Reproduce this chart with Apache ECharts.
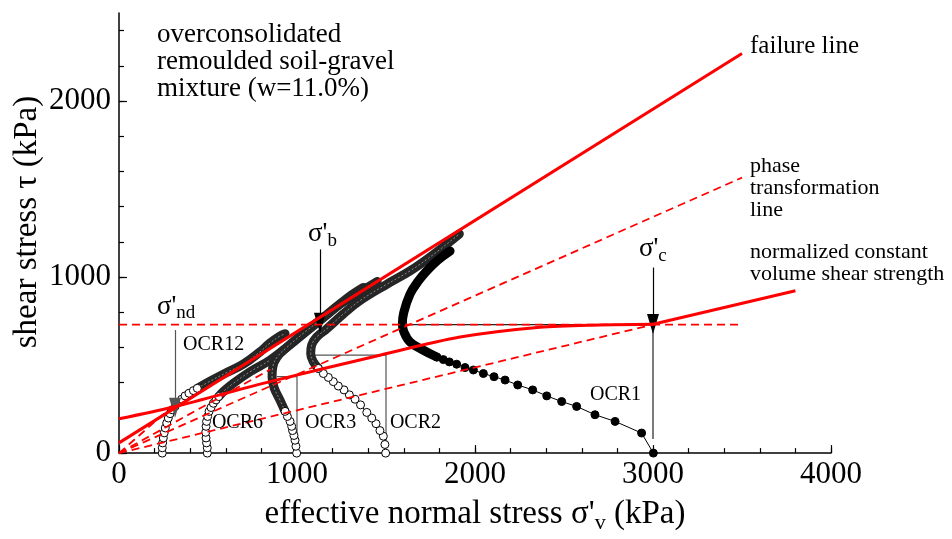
<!DOCTYPE html>
<html>
<head>
<meta charset="utf-8">
<script src="https://cdn.jsdelivr.net/npm/echarts@6/dist/echarts.min.js"></script>
<style>
html, body { margin: 0; padding: 0; background: #fff; }
#chart { width: 952px; height: 539px; }
</style>
</head>
<body>
<div id="chart"></div>
<script>
// axis ticks
var xLabels = [0, 1000, 2000, 3000, 4000];
var xMinorTicks = [0, 200, 400, 600, 800, 1000, 1200, 1400, 1600, 1800, 2000, 2200, 2400, 2600, 2800, 3000, 3200, 3400, 3600, 3800, 4000];
var yLabels = [0, 1000, 2000];
var yMinorTicks = [0, 200, 400, 600, 800, 1000, 1200, 1400, 1600, 1800, 2000, 2200, 2400];

// stress paths (sigma'v, tau) in kPa
var ocr12Pts = [[243, 0], [243, 30], [245, 58], [249, 86], [254, 115], [260, 143], [268, 171], [277, 199], [287, 224], [299, 246], [315, 265], [333, 287], [352, 306], [371, 325], [393, 340], [418, 355], [440, 368]];
var ocr12Band = [[440, 368], [511, 408], [605, 458], [698, 505], [792, 575], [848, 625], [900, 662], [933, 678]];
var ocr6Pts = [[496, 0], [496, 30], [492, 58], [489, 86], [487, 118], [489, 152], [492, 180], [498, 208], [506, 237], [517, 259], [530, 283], [545, 302], [560, 321]];
var ocr6Band = [[560, 321], [586, 349], [642, 396], [736, 462], [848, 528], [979, 630], [1073, 708], [1167, 785], [1279, 878], [1373, 941]];
var ocr3Pts = [[998, 0], [994, 39], [989, 73], [983, 100], [975, 128], [970, 152], [961, 180], [946, 208], [933, 237]];
var ocr3Band = [[933, 237], [905, 300], [872, 370], [860, 432], [864, 490], [888, 545], [942, 600], [1035, 680], [1129, 755], [1241, 845], [1354, 915], [1450, 975]];
var ocr2Pts = [[1498, 0], [1494, 49], [1485, 96], [1466, 128], [1444, 167], [1420, 199], [1392, 231], [1357, 274], [1326, 306], [1294, 331], [1264, 359], [1232, 381], [1204, 406], [1176, 430], [1148, 452], [1120, 481]];
var ocr2Band = [[1120, 481], [1092, 518], [1077, 565], [1082, 612], [1110, 659], [1167, 706], [1260, 790], [1354, 866], [1504, 959], [1635, 1035], [1766, 1128], [1912, 1245]];
var ocr1Pts = [[3002, 0], [2936, 114], [2787, 180], [2674, 218], [2571, 265], [2487, 293], [2403, 325], [2324, 359], [2240, 387], [2169, 415], [2107, 434], [2047, 452], [1991, 472], [1944, 486], [1897, 505], [1856, 518], [1822, 531], [1785, 546]];
var ocr1Band = [[1785, 546], [1710, 584], [1635, 631], [1600, 690], [1592, 735], [1600, 800], [1635, 903], [1680, 975], [1729, 1035], [1790, 1095], [1860, 1148]];

// red reference lines
var failureLine = [[0, 58], [3500, 2270]];
var phaseLine = [[0, 0], [3500, 1565]];
var cvCurve = [[0, 195], [305, 262], [848, 406], [1466, 556], [1916, 659], [2365, 715], [2700, 728], [3000, 732]];
var cvStraight = [[3000, 732], [3800, 922]];
var ndLevel = [[0, 730], [3500, 730]];
var cLine = [[0, 0], [3000, 730]];
var fanA = [[0, 0], [850, 475]];
var fanB = [[0, 0], [300, 265]];

// thin guides
var ocr1Guide = [[1597, 730], [3000, 730]];
var ocr2Guide = [[1101, 556], [1500, 556], [1500, 0]];
var ocr3Guide = [[886, 434], [1000, 434], [1000, 0]];
var cGuide = [[3000, 730], [3000, 80]];

// arrows [from, to]
var arrowNd = [[315, 699], [315, 258]];
var arrowB = [[1129, 1157], [1129, 740]];
var arrowC = [[3000, 1054], [3000, 734]];

// text notes: x, y (top-left), text, style
var notes = [
    [213, 2455, 'overconsolidated\nremoulded soil-gravel\nmixture (w=11.0%)', 'big'],
    [3545, 2385, 'failure line', 'mid'],
    [3545, 1690, 'phase\ntransformation\nline', 'small'],
    [3545, 1203, 'normalized constant\nvolume shear strength', 'small'],
    [360, 670, 'OCR12', 'ocr'],
    [522, 231, 'OCR6', 'ocr'],
    [1045, 231, 'OCR3', 'ocr'],
    [1522, 231, 'OCR2', 'ocr'],
    [2646, 389, 'OCR1', 'ocr'],
    [213, 924, '{m|σ\'}{s|nd}', 'sig'],
    [1062, 1335, '{m|σ\'}{s|b}', 'sig'],
    [2921, 1251, '{m|σ\'}{s|c}', 'sig']
];

var FONT = '"Liberation Serif", "DejaVu Serif", serif';
var RED = '#ff0000';

var noteStyles = {
    big: { fontSize: 27, lineHeight: 27 },
    mid: { fontSize: 25, lineHeight: 26 },
    small: { fontSize: 22, lineHeight: 22 },
    ocr: { fontSize: 20, lineHeight: 20 },
    sig: {
        rich: {
            m: { fontSize: 27, lineHeight: 32, fontFamily: FONT, color: '#000' },
            s: { fontSize: 19, lineHeight: 18, padding: [14, 0, 0, 0], fontFamily: FONT, color: '#000' }
        }
    }
};

function band(data, color) {
    return {
        type: 'line', data: data, smooth: 0.4, symbol: 'none', z: 3,
        lineStyle: { color: color, width: 9, cap: 'round', join: 'round' }
    };
}
// light hatching inside the dense runs of circles
function bandTexture(data) {
    return {
        type: 'line', data: data, smooth: 0.4, symbol: 'none', z: 3,
        lineStyle: { color: '#8a8a8a', width: 1, type: [2, 2] }
    };
}
function dots(data, filled) {
    return {
        type: 'line', data: data, symbol: 'circle', symbolSize: 8, z: 3,
        itemStyle: { color: filled ? '#000' : '#fff', borderColor: '#000', borderWidth: 1 },
        lineStyle: { color: '#000', width: 1 }
    };
}
function redLine(data, dashed, width, smooth) {
    return {
        type: 'line', data: data, symbol: 'none', smooth: smooth || false, z: 5,
        lineStyle: { color: RED, width: width, type: dashed ? [8, 5] : 'solid' }
    };
}
function guide(data, color) {
    return {
        type: 'line', data: data, symbol: 'none', z: 2,
        lineStyle: { color: color, width: 1.2 }
    };
}
function arrow(pair, color) {
    return {
        type: 'line', data: [], z: 6,
        markLine: {
            silent: true, animation: false,
            symbol: ['none', 'triangle'], symbolSize: [12, 20],
            label: { show: false },
            itemStyle: { color: color },
            lineStyle: { color: color, width: 1.2, type: 'solid' },
            data: [[{ coord: pair[0] }, { coord: pair[1] }]]
        }
    };
}
function plain(v) { return String(v); }

var chart = echarts.init(document.getElementById('chart'));

var option = {
    animation: false,
    grid: { left: 119, right: 121, top: 13, bottom: 82 },
    xAxis: [{
        type: 'value', min: 0, max: 4000,
        axisLine: { lineStyle: { color: '#000', width: 1.5 } },
        axisTick: { inside: true, length: 5, customValues: xMinorTicks, lineStyle: { color: '#000', width: 1.2 } },
        axisLabel: { customValues: xLabels, formatter: plain, margin: 6, fontFamily: FONT, fontSize: 31, color: '#000' },
        splitLine: { show: false },
        name: '{m|effective normal stress σ\'}{s|v}{m| (kPa)}',
        nameLocation: 'middle', nameGap: 42,
        nameTextStyle: {
            rich: {
                m: { fontSize: 33, lineHeight: 38, fontFamily: FONT, color: '#000' },
                s: { fontSize: 22, lineHeight: 22, padding: [17, 0, 0, 0], fontFamily: FONT, color: '#000' }
            }
        }
    }, {
        type: 'value', min: 0, max: 4000, position: 'bottom',
        axisLine: { show: false },
        axisTick: { inside: true, length: 8, customValues: xLabels, lineStyle: { color: '#000', width: 1.2 } },
        axisLabel: { show: false },
        splitLine: { show: false }
    }],
    yAxis: [{
        type: 'value', min: 0, max: 2500,
        axisLine: { show: true, lineStyle: { color: '#000', width: 1.5 } },
        axisTick: { show: true, inside: true, length: 5, customValues: yMinorTicks, lineStyle: { color: '#000', width: 1.2 } },
        axisLabel: { customValues: yLabels, formatter: plain, margin: 8, fontFamily: FONT, fontSize: 31, color: '#000' },
        splitLine: { show: false }
    }, {
        type: 'value', min: 0, max: 2500, position: 'left',
        axisLine: { show: false },
        axisTick: { show: true, inside: true, length: 8, customValues: yLabels, lineStyle: { color: '#000', width: 1.2 } },
        axisLabel: { show: false },
        splitLine: { show: false }
    }],
    graphic: [{
        type: 'text', x: 27, y: 222, rotation: Math.PI / 2,
        style: {
            text: 'shear stress τ (kPa)', fill: '#000',
            font: '33px ' + FONT,
            align: 'center', verticalAlign: 'middle',
            textAlign: 'center', textVerticalAlign: 'middle'
        }
    }],
    series: [
        guide(ocr1Guide, '#222'),
        guide(ocr2Guide, '#555'),
        guide(ocr3Guide, '#555'),
        guide(cGuide, '#222'),
        dots(ocr12Pts, false), band(ocr12Band, '#262626'), bandTexture(ocr12Band),
        dots(ocr6Pts, false), band(ocr6Band, '#262626'), bandTexture(ocr6Band),
        dots(ocr3Pts, false), band(ocr3Band, '#262626'), bandTexture(ocr3Band),
        dots(ocr2Pts, false), band(ocr2Band, '#262626'), bandTexture(ocr2Band),
        dots(ocr1Pts, true), band(ocr1Band, '#000'),
        redLine(failureLine, false, 3),
        redLine(cvCurve, false, 3, 0.3),
        redLine(cvStraight, false, 3),
        redLine(phaseLine, true, 1.8),
        redLine(ndLevel, true, 1.8),
        redLine(cLine, true, 1.8),
        redLine(fanA, true, 1.8),
        redLine(fanB, true, 1.8),
        arrow(arrowNd, '#555'),
        arrow(arrowB, '#000'),
        arrow(arrowC, '#000'),
        {
            type: 'scatter', symbolSize: 0, z: 7, silent: true,
            itemStyle: { opacity: 1 },
            data: notes.map(function (n) {
                var st = noteStyles[n[3]];
                var lab = {
                    show: true, position: [0, 0], align: 'left', verticalAlign: 'top',
                    formatter: n[2], color: '#000', opacity: 1, fontFamily: FONT
                };
                for (var k in st) lab[k] = st[k];
                return { value: [n[0], n[1]], label: lab };
            })
        }
    ]
};

chart.setOption(option);
window.addEventListener('resize', function () { chart.resize(); });
</script>
</body>
</html>
